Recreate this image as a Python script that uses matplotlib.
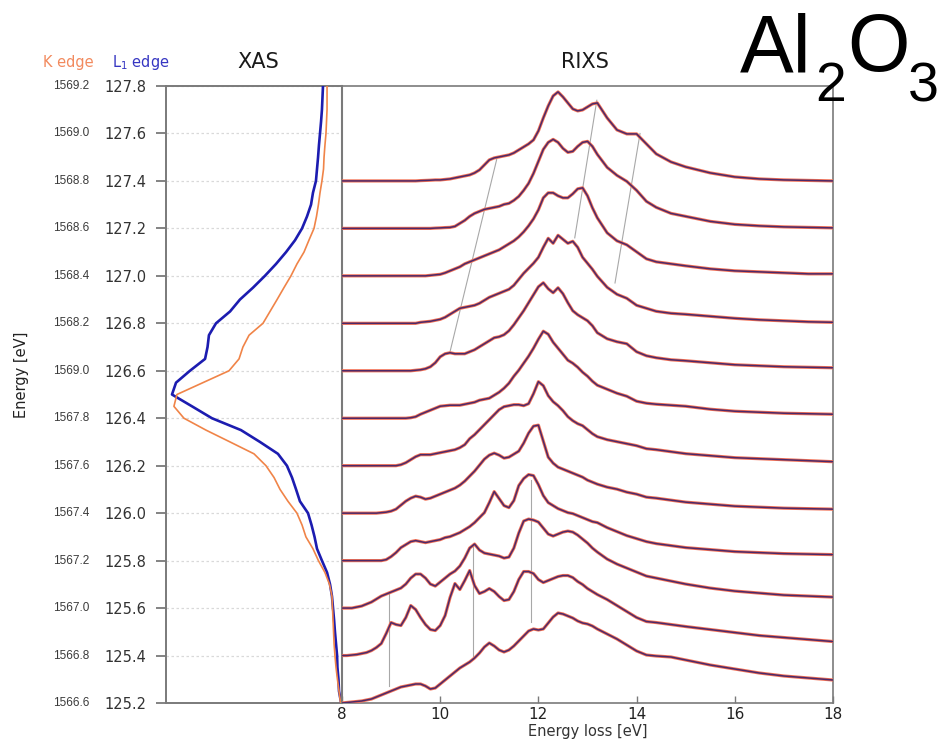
import numpy as np
import matplotlib.pyplot as plt
from matplotlib.transforms import blended_transform_factory

# --- XAS (L1 edge energy axis, intensity grows to the left) ---
l1_energy = [127.8, 127.75, 127.7, 127.65, 127.6, 127.55, 127.5, 127.45, 127.4, 127.35,
             127.3, 127.25, 127.2, 127.15, 127.1, 127.05, 127.0, 126.95, 126.9, 126.85,
             126.8, 126.75, 126.7, 126.65, 126.6, 126.55, 126.5, 126.45, 126.4, 126.35,
             126.3, 126.25, 126.2, 126.15, 126.1, 126.05, 126.0, 125.95, 125.9, 125.85,
             125.8, 125.75, 125.7, 125.65, 125.6, 125.55, 125.5, 125.45, 125.4, 125.35,
             125.3, 125.25, 125.2]
xas_l1 = [0.108, 0.111, 0.114, 0.119, 0.125, 0.131, 0.136, 0.142, 0.148, 0.165,
          0.176, 0.199, 0.227, 0.267, 0.318, 0.375, 0.438, 0.506, 0.580, 0.636,
          0.716, 0.756, 0.764, 0.778, 0.864, 0.943, 0.966, 0.852, 0.739, 0.574,
          0.466, 0.364, 0.313, 0.284, 0.261, 0.239, 0.193, 0.173, 0.156, 0.142,
          0.114, 0.085, 0.068, 0.057, 0.051, 0.045, 0.040, 0.034, 0.028, 0.026,
          0.020, 0.017, 0.005]
xas_k = [0.085, 0.085, 0.085, 0.088, 0.091, 0.097, 0.102, 0.105, 0.114, 0.125,
         0.134, 0.145, 0.159, 0.188, 0.216, 0.256, 0.290, 0.330, 0.369, 0.409,
         0.449, 0.528, 0.563, 0.585, 0.642, 0.790, 0.938, 0.955, 0.898, 0.773,
         0.636, 0.500, 0.432, 0.386, 0.352, 0.307, 0.256, 0.227, 0.205, 0.165,
         0.134, 0.097, 0.071, 0.057, 0.054, 0.051, 0.048, 0.045, 0.040, 0.034,
         0.026, 0.017, 0.008]

l1_ticks = [127.8, 127.6, 127.4, 127.2, 127.0, 126.8, 126.6, 126.4, 126.2, 126.0,
            125.8, 125.6, 125.4, 125.2]
k_labels = ['1569.2', '1569.0', '1568.8', '1568.6', '1568.4', '1568.2', '1569.0',
            '1567.8', '1567.6', '1567.4', '1567.2', '1567.0', '1566.8', '1566.6']

# --- RIXS spectra (counts in arb. units), one per incident energy ---
incident = [125.2, 125.4, 125.6, 125.8, 126.0, 126.2, 126.4, 126.6, 126.8, 127.0, 127.2, 127.4]
loss_ev = [8.0, 8.1, 8.2, 8.3, 8.4, 8.5, 8.6, 8.7, 8.8, 8.9, 9.0, 9.1, 9.2, 9.3, 9.4, 9.5,
           9.6, 9.7, 9.8, 9.9, 10.0, 10.1, 10.2, 10.3, 10.4, 10.5,
           10.6, 10.7, 10.8, 10.9, 11.0, 11.1, 11.2, 11.3, 11.4, 11.5,
           11.6, 11.7, 11.8, 11.9, 12.0, 12.1, 12.2, 12.3, 12.4, 12.5,
           12.6, 12.7, 12.8, 12.9, 13.0, 13.1, 13.2,
           13.4, 13.6, 13.8, 14.0, 14.2, 14.4, 14.7, 15.0, 15.5, 16.0, 16.5, 17.0, 17.5, 18.0]

rixs_1252 = [0, 0.5, 1, 1.5, 2, 3, 4, 6, 8, 10, 12, 14, 16, 17, 18, 19,
             19, 17, 14, 15, 19, 23, 27, 31, 35, 38,
             41, 45, 50, 56, 60, 57, 53, 51, 53, 57,
             62, 67, 72, 74, 73, 74, 80, 86, 90, 89,
             87, 85, 82, 80, 79, 77, 74,
             69, 64, 58, 52, 48, 47, 46, 43, 38, 34, 30, 27, 25, 23]
rixs_1254 = [0, 0, 0.5, 1, 2, 3, 5, 8, 12, 22, 33, 31, 30, 38, 50, 46,
             38, 31, 26, 25, 30, 40, 58, 72, 66, 75,
             85, 70, 62, 64, 67, 64, 59, 55, 56, 64,
             76, 84, 84, 82, 76, 73, 75, 77, 79, 80,
             80, 78, 74, 71, 67, 64, 61,
             56, 50, 44, 38, 34, 33, 31, 29, 26, 23, 20, 18, 16, 14]
rixs_1256 = [0, 0, 0, 1, 2, 4, 6, 9, 12, 14, 16, 18, 20, 24, 30, 34,
             34, 30, 24, 22, 26, 30, 34, 37, 42, 50,
             60, 64, 58, 55, 54, 53, 52, 50, 51, 60,
             75, 87, 89, 88, 86, 80, 74, 72, 74, 76,
             77, 76, 73, 69, 65, 60, 56,
             49, 44, 40, 36, 32, 30, 27, 24, 20, 17, 15, 13, 12, 11]
rixs_1258 = [0, 0, 0, 0, 0, 0, 0, 0, 0, 1, 4, 8, 13, 16, 19, 20,
             19, 18, 19, 20, 21, 23, 24, 26, 28, 31,
             34, 38, 43, 48, 58, 69, 62, 55, 53, 60,
             75, 82, 86, 85, 76, 65, 58, 55, 52, 50,
             48, 47, 45, 43, 41, 39, 38,
             33, 29, 25, 22, 19, 17, 15, 13, 11, 9, 8, 7, 6.5, 6]
rixs_1260 = [0, 0, 0, 0, 0, 0, 0, 0, 0.5, 1, 2, 4, 8, 12, 15, 17,
             16, 14, 15, 17, 19, 21, 23, 25, 28, 32,
             37, 42, 48, 54, 58, 60, 58, 55, 56, 59,
             62, 70, 80, 87, 88, 72, 56, 50, 46, 44,
             42, 40, 38, 36, 33, 31, 29,
             26, 24, 21, 19, 16, 15, 13, 11, 9, 7, 6, 5, 4.5, 4]
rixs_1262 = [0, 0, 0, 0, 0, 0, 0, 0, 0, 0, 0, 0, 1, 3, 6, 9,
             11, 11, 11, 12, 13, 14, 15, 16, 18, 21,
             27, 31, 36, 41, 46, 51, 56, 59, 60, 61,
             61, 60, 62, 72, 84, 80, 70, 64, 60, 55,
             49, 45, 42, 40, 36, 32, 29,
             26, 24, 22, 20, 17, 16, 14, 12, 10, 8, 7, 6, 5, 4]
rixs_1264 = [0, 0, 0, 0, 0, 0, 0, 0, 0, 0, 0, 0, 0, 0, 0.5, 1.5,
             4, 6, 8, 10, 12, 12.5, 13, 13, 13, 14,
             15, 16, 18, 19, 20, 23, 26, 30, 35, 42,
             48, 55, 62, 70, 79, 87, 84, 76, 70, 64,
             58, 55, 51, 46, 42, 37, 33,
             29, 25, 22, 17, 15, 14, 13, 12, 9, 7, 6, 5, 4.5, 4]
rixs_1266 = [0, 0, 0, 0, 0, 0, 0, 0, 0, 0, 0, 0, 0, 0, 0, 0.5,
             1, 2, 4, 8, 14, 17, 18, 17, 17, 17,
             19, 21, 24, 27, 30, 33, 34, 36, 40, 46,
             53, 60, 68, 76, 84, 88, 82, 78, 83, 77,
             68, 60, 56, 53, 50, 45, 38,
             32, 29, 27, 19, 15, 13, 11, 10, 8, 6, 5, 4, 3.5, 3]
rixs_1268 = [0, 0, 0, 0, 0, 0, 0, 0, 0, 0, 0, 0, 0, 0, 0, 0,
             1, 1.5, 2, 3, 4, 6, 9, 12, 15, 16,
             17, 18, 20, 23, 26, 28, 30, 32, 34, 38,
             44, 50, 55, 60, 66, 76, 85, 80, 88, 84,
             80, 82, 76, 66, 60, 54, 47,
             36, 29, 25, 18, 15, 12, 10, 9, 7, 5, 3.5, 2.5, 1.5, 1]
rixs_1270 = [0, 0, 0, 0, 0, 0, 0, 0, 0, 0, 0, 0, 0, 0, 0, 0,
             0, 0, 0.5, 1, 1.5, 3, 5, 7, 9, 12,
             14, 16, 18, 20, 22, 24, 26, 29, 32, 35,
             39, 44, 50, 57, 66, 78, 83, 83, 80, 78,
             78, 82, 87, 88, 80, 68, 58,
             43, 35, 31, 24, 17, 14, 12, 10, 7, 5, 4, 3, 2, 2]
rixs_1272 = [0, 0, 0, 0, 0, 0, 0, 0, 0, 0, 0, 0, 0, 0, 0, 0,
             0, 0, 0, 0.3, 0.5, 0.8, 1, 2, 5, 8,
             12, 15, 17, 19, 20, 21, 22, 24, 25, 28,
             32, 38, 45, 55, 67, 79, 86, 89, 86, 80,
             76, 77, 82, 86, 87, 82, 74,
             61, 53, 47, 38, 27, 21, 15, 12, 7, 4, 2.5, 1.5, 1, 0.5]
rixs_1274 = [0, 0, 0, 0, 0, 0, 0, 0, 0, 0, 0, 0, 0, 0, 0, 0,
             0.3, 0.5, 0.7, 1, 1, 1.5, 2, 3, 4, 5,
             6, 8, 11, 16, 21, 23, 24, 25, 26, 28,
             31, 34, 37, 41, 50, 63, 75, 85, 89, 84,
             78, 72, 70, 71, 74, 77, 78,
             63, 51, 47, 47, 37, 27, 19, 14, 8, 4, 2, 1, 0.5, 0]

rixs_all = [rixs_1252, rixs_1254, rixs_1256, rixs_1258, rixs_1260, rixs_1262,
            rixs_1264, rixs_1266, rixs_1268, rixs_1270, rixs_1272, rixs_1274]

# feature guide lines (loss0, E0, loss1, E1)
guides = [(10.2, 126.68, 11.15, 127.49),
          (12.74, 127.16, 13.19, 127.74),
          (13.56, 126.97, 14.07, 127.60),
          (8.96, 125.27, 8.96, 125.66),
          (10.67, 125.39, 10.67, 125.87),
          (11.85, 125.54, 11.85, 126.14)]

W, H = 944, 747
fig = plt.figure(figsize=(W / 100, H / 100), dpi=100)
plt.rcParams['font.family'] = ['DejaVu Sans']

spine_c = '#7a7a7a'
blue = '#1c1cb0'
orange = '#f08448'

ax_xas = fig.add_axes([166 / W, 1 - 703 / H, 176 / W, 617 / H])
ax_rixs = fig.add_axes([342 / W, 1 - 703 / H, 491 / W, 617 / H], sharey=ax_xas)

# XAS panel
ax_xas.plot(xas_l1, l1_energy, color=blue, lw=1.9, zorder=3)
ax_xas.plot(xas_k, l1_energy, color=orange, lw=1.2, zorder=4)
ax_xas.set_xlim(1.0, 0.0)
ax_xas.set_ylim(125.2, 127.8)
ax_xas.set_xticks([])
ax_xas.set_yticks(l1_ticks)
ax_xas.set_yticklabels(['%.1f' % v for v in l1_ticks])
ax_xas.tick_params(axis='y', direction='out', length=7, width=1.3, color=spine_c,
                   pad=7, labelsize=10.5, labelcolor='#333333')
ax_xas.yaxis.grid(True, linestyle=(0, (2, 2)), color='#d9d9d9', lw=0.9)
ax_xas.spines['right'].set_visible(False)
for s in ['left', 'top', 'bottom']:
    ax_xas.spines[s].set_color(spine_c)
    ax_xas.spines[s].set_linewidth(1.4)

tr = blended_transform_factory(fig.transFigure, ax_xas.transData)
for v, lab in zip(l1_ticks, k_labels):
    ax_xas.text(71 / W, v, lab, transform=tr, ha='center', va='center',
                fontsize=8.5, color='#3a3a3a', family='Liberation Sans')

# RIXS panel: both edges overlaid (red under, blue on top)
scale = 0.2 / 47.46
for base, counts in zip(incident, rixs_all):
    yv = base + np.array(counts) * scale
    ax_rixs.plot(loss_ev, yv, color='#f27055', lw=2.3, zorder=3, solid_joinstyle='round')
    ax_rixs.plot(loss_ev, yv, color='#221870', lw=1.1, alpha=0.8, zorder=4,
                 solid_joinstyle='round')

for e0, y0, e1, y1 in guides:
    ax_rixs.plot([e0, e1], [y0, y1], color='#a8a8a8', lw=0.8, zorder=2)

ax_rixs.set_xlim(8, 18)
ax_rixs.set_xticks([8, 10, 12, 14, 16, 18])
ax_rixs.tick_params(axis='x', direction='in', length=5, width=1.0, color=spine_c,
                    labelsize=11, pad=3, labelcolor='#222222')
ax_rixs.tick_params(axis='y', left=False, labelleft=False)
ax_rixs.set_xlabel('Energy loss [eV]', fontsize=10.5, labelpad=1, color='#333333')
for s in ['left', 'top', 'bottom', 'right']:
    ax_rixs.spines[s].set_color(spine_c)
    ax_rixs.spines[s].set_linewidth(1.2)
ax_rixs.spines['left'].set_linewidth(1.5)

# headers
fig.text(68 / W, 1 - 62 / H, 'K edge', color='#f28a5e', fontsize=10.5,
         ha='center', va='center')
fig.text(141 / W, 1 - 62 / H, r'L$_1$ edge', color='#3636c2', fontsize=10.5,
         ha='center', va='center')
fig.text(258 / W, 1 - 62 / H, 'XAS', fontsize=15, ha='center', va='center', color='#1a1a1a')
fig.text(585 / W, 1 - 62 / H, 'RIXS', fontsize=15, ha='center', va='center', color='#1a1a1a')
fig.text(22 / W, 1 - 375 / H, 'Energy [eV]', rotation=90, fontsize=10.5,
         ha='center', va='center', color='#222222')

# formula
fam = 'Liberation Sans'
fig.text(740 / W, 1 - 71 / H, 'Al', fontsize=58, family=fam, va='baseline', ha='left')
fig.text(815 / W, 1 - 101 / H, '2', fontsize=40, family=fam, va='baseline', ha='left')
fig.text(847 / W, 1 - 71 / H, 'O', fontsize=58, family=fam, va='baseline', ha='left')
fig.text(908 / W, 1 - 101 / H, '3', fontsize=40, family=fam, va='baseline', ha='left')

fig.savefig('out.png', dpi=100)
